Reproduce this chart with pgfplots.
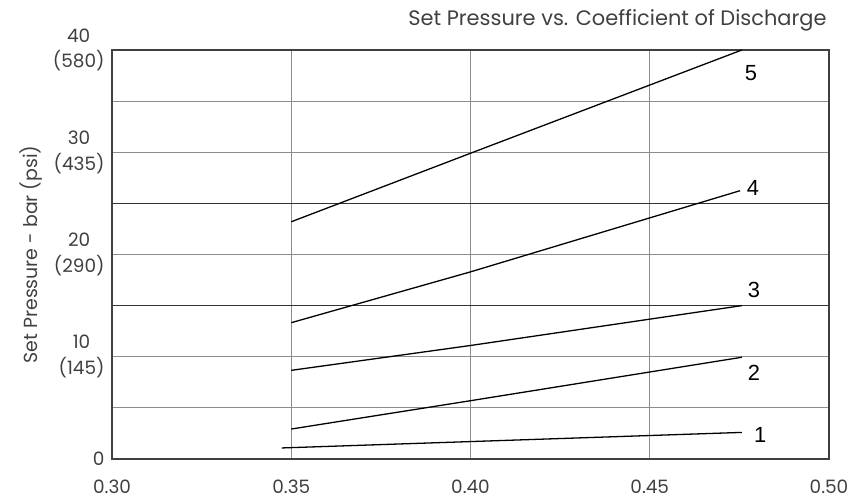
\documentclass[border=0pt]{standalone}
\usepackage{fontspec}
\setmainfont{Poppins}
\newfontfamily\arialf{Liberation Sans}
\usepackage{pgfplots}
\pgfplotsset{compat=1.18}
\definecolor{txt}{HTML}{404040}
\definecolor{gridc}{HTML}{8C8C8C}
\definecolor{gridd}{HTML}{333333}
\begin{document}
\begin{tikzpicture}
\begin{axis}[
    name=ax,
    scale only axis,
    width=717bp, height=409bp,
    xmin=0.30, xmax=0.50,
    ymin=0, ymax=40,
    xtick={0.30,0.35,0.40,0.45,0.50},
    xticklabels={0.30,0.35,0.40,0.45,0.50},
    ytick={0,10,20,30,40},
    yticklabels={0,{10\\(145)},{20\\(290)},{30\\(435)},{40\\(580)}},
    minor ytick={5,35},
    extra y ticks={15,25},
    extra y tick labels={},
    extra y tick style={grid=major, major grid style={gridd, line width=1.1pt}},
    grid=both,
    major grid style={gridc, line width=0.8pt},
    minor grid style={gridc, line width=0.8pt},
    tick style={draw=none},
    axis line style={draw=black!75, line width=1.6pt},
    ticklabel style={font=\fontsize{18.5}{26}\selectfont, text=txt},
    yticklabel style={align=center, xshift=-4bp},
    xticklabel style={yshift=-17bp},
    ylabel={Set Pressure - bar (psi)},
    ylabel style={font=\fontsize{19}{20}\selectfont, text=txt, yshift=4bp},
    clip=false,
]
\addplot[black, line width=1.3pt] coordinates {(0.3474,1.08) (0.4757,2.6)};
\addplot[black, line width=1.3pt] coordinates {(0.35,2.93) (0.40,5.7) (0.4757,9.95)};
\addplot[black, line width=1.3pt] coordinates {(0.35,8.67) (0.40,11.1) (0.4757,15.0)};
\addplot[black, line width=1.3pt] coordinates {(0.35,13.33) (0.40,18.3) (0.4752,26.24)};
\addplot[black, line width=1.3pt] coordinates {(0.35,23.2) (0.40,29.9) (0.4757,40)};
\node[font=\arialf\fontsize{22}{24}\selectfont] at (axis cs:0.4782,37.75) {5};
\node[font=\arialf\fontsize{22}{24}\selectfont] at (axis cs:0.4788,26.5) {4};
\node[font=\arialf\fontsize{22}{24}\selectfont] at (axis cs:0.4791,16.5) {3};
\node[font=\arialf\fontsize{22}{24}\selectfont] at (axis cs:0.4791,8.4) {2};
\node[font=\arialf\fontsize{22}{24}\selectfont] at (axis cs:0.4808,2.35) {1};
\end{axis}
\node[anchor=east, font=\fontsize{21}{24}\selectfont, text=txt] at ([xshift=1bp,yshift=30bp]ax.north east) {Set Pressure vs. Coefficient of Discharge};
\path[use as bounding box] ([xshift=-112bp,yshift=-42bp]ax.south west) rectangle ([xshift=24bp,yshift=50bp]ax.north east);
\end{tikzpicture}
\end{document}
